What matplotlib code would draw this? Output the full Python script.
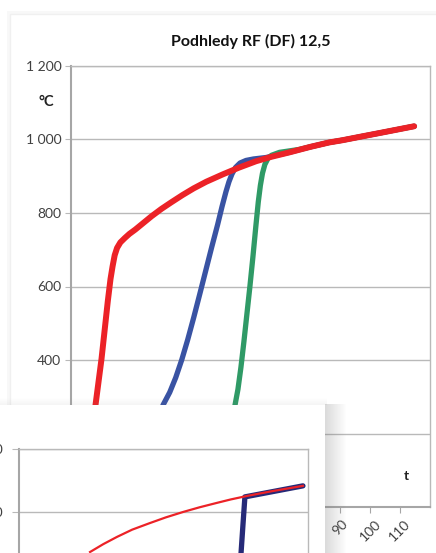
import numpy as np
import matplotlib
matplotlib.use("Agg")
import matplotlib.pyplot as plt
from matplotlib.patches import Rectangle

plt.rcParams['font.family'] = ['Lato', 'DejaVu Sans']

W, H = 436, 553

# main chart: Podhledy RF (DF) 12,5
t_red = [0, 4, 6.5, 8.2, 10.2, 12.3, 13.2, 13.9, 14.6, 15.4, 16.5, 18.0, 19.5, 21.5, 23.6,
         26.9, 30.2, 33.5, 37.3, 41, 45.2, 50.7, 56, 61.9, 67, 73, 80, 86.3, 90.7, 97, 104, 114.7]
T_red = [20, 60, 160, 278, 403, 560, 620, 655, 685, 705, 720, 732, 743, 755, 769,
         791, 811, 829, 849, 867, 885, 905, 923, 941, 953, 965, 980, 992, 998, 1008, 1019, 1036]

t_blue = [0, 10, 20, 26, 30.8, 33, 35, 37, 39, 41, 43, 45, 47, 49, 50.5, 51.8, 52.8,
          53.8, 55, 56.5, 58.5, 61, 65.2, 73, 80, 86.3, 90.7, 97, 104, 114.7]
T_blue = [20, 40, 90, 170, 278, 312, 352, 400, 455, 515, 578, 642, 706, 768, 818, 858, 885,
          906, 924, 936, 943, 947, 951, 965, 980, 992, 998, 1008, 1019, 1036]

t_green = [0, 30, 45, 52, 54.7, 55.8, 56.8, 57.8, 58.8, 59.8, 60.8, 61.8, 62.6, 63.3, 64.0,
           64.8, 65.8, 67, 69.7, 73, 76.3, 80, 86.3, 90.7, 97, 104, 114.7]
T_green = [20, 40, 90, 180, 272, 320, 380, 450, 525, 600, 680, 765, 830, 875, 908,
           932, 948, 957, 965, 969, 973, 980, 992, 998, 1008, 1019, 1036]

y_ticks = [0, 200, 400, 600, 800, 1000, 1200]
y_labels = ['0', '200', '400', '600', '800', '1 000', '1 200']
x_ticks = list(range(0, 120, 10))

# inset chart: Podhled 1x Ridurit 15
t_iso = [29.5, 35, 40.7, 47, 54.4, 61, 68.1, 75, 82.2, 88, 94.7, 105, 117.9]
T_iso = [873, 898, 921, 944, 965, 983, 1000, 1015, 1029, 1040, 1051, 1066, 1083]
t_rid = [91.0, 91.6, 92.2, 93.0, 93.8, 117.9]
T_rid = [700, 780, 870, 960, 1048, 1083]
ins_ticks = [1000, 1200]
ins_labels = ['1 000', '1 200']


def box(l, t, r, b):
    return [l / W, 1 - b / H, (r - l) / W, (b - t) / H]


fig = plt.figure(figsize=(W / 100, H / 100), dpi=100, facecolor='white')

# card behind the main chart
back = fig.add_axes([0, 0, 1, 1], zorder=0)
back.set_xlim(0, W)
back.set_ylim(H, 0)
back.axis('off')
back.add_patch(Rectangle((7, 11), W, H, fc='#f8f8f8', ec='none'))
back.add_patch(Rectangle((10, 14), W, H, fc='white', ec='#f0f0f0', lw=1))

grid_c = '#b9b9b9'
ax = fig.add_axes(box(71, 66, 430, 507), zorder=1)
ax.plot(t_blue, T_blue, color='#3953a3', lw=3.8, solid_capstyle='round', solid_joinstyle='round')
ax.plot(t_green, T_green, color='#2f9a66', lw=3.8, solid_capstyle='round', solid_joinstyle='round')
ax.plot(t_red, T_red, color='#ec2227', lw=4.3, solid_capstyle='round', solid_joinstyle='round')
ax.set_xlim(0, 120)
ax.set_ylim(0, 1200)
ax.set_yticks(y_ticks)
ax.set_yticklabels(y_labels)
ax.set_xticks(x_ticks)
ax.set_xticklabels([str(v) for v in x_ticks], rotation=45, ha='center', va='top')
ax.grid(axis='y', color=grid_c, lw=1)
ax.set_axisbelow(True)
for s in ax.spines.values():
    s.set_color(grid_c)
    s.set_linewidth(1)
ax.spines['left'].set_color('#a6a6a6')
ax.spines['left'].set_linewidth(1.5)
ax.spines['bottom'].set_color('#a6a6a6')
ax.spines['bottom'].set_linewidth(1.5)
ax.tick_params(axis='y', length=4, color=grid_c, labelsize=10, labelcolor='#404040', pad=3)
ax.tick_params(axis='x', length=4, color='#a6a6a6', labelsize=10, labelcolor='#404040', pad=4)
ax.text(112, 84, 't', fontsize=10, fontweight='bold', ha='center', va='center', color='#222222')

fig.text(251 / W, 1 - 41 / H, 'Podhledy RF (DF) 12,5', fontsize=11.5, fontweight='bold',
         ha='center', va='center', color='#111111')
fig.text(46 / W, 1 - 102 / H, '°C', fontsize=10.5, fontweight='bold',
         ha='center', va='center', color='#222222')

# inset card with a soft shadow
front = fig.add_axes([0, 0, 1, 1], zorder=5)
front.set_xlim(0, W)
front.set_ylim(H, 0)
front.axis('off')
side = np.zeros((1, 40, 4))
side[..., :3] = 0.45
side[0, :, 3] = np.linspace(0.26, 0, 40)
front.imshow(side, extent=(325, 347, H, 404), aspect='auto', interpolation='bilinear')
top = np.zeros((20, 1, 4))
top[..., :3] = 0.5
top[:, 0, 3] = np.linspace(0, 0.08, 20)
front.imshow(top, extent=(0, 326, 405, 398), aspect='auto', interpolation='bilinear')
front.add_patch(Rectangle((0, 405), 325, 160, fc='white', ec='none'))
front.set_xlim(0, W)
front.set_ylim(H, 0)

ax2 = fig.add_axes(box(19, 449, 308, 575), zorder=6)
ax2.plot(t_rid, T_rid, color='#262a78', lw=3.8, solid_capstyle='round')
ax2.plot(t_iso, T_iso, color='#ec2227', lw=1.6)
ax2.set_xlim(0, 120)
ax2.set_ylim(800, 1200)
ax2.set_yticks(ins_ticks)
ax2.set_yticklabels(ins_labels)
ax2.set_xticks([])
ax2.grid(axis='y', color=grid_c, lw=1)
ax2.set_axisbelow(True)
for s in ax2.spines.values():
    s.set_color(grid_c)
    s.set_linewidth(1)
ax2.spines['left'].set_color('#a6a6a6')
ax2.spines['left'].set_linewidth(1.5)
ax2.tick_params(axis='y', length=5, color=grid_c, labelsize=10, labelcolor='#404040', pad=7)
fig.text(150 / W, 1 - 427 / H, 'Podhled 1x Ridurit 15', fontsize=11.5, fontweight='bold',
         ha='center', va='center', color='#111111')
fig.text(-4 / W, 1 - 479 / H, '°C', fontsize=10, fontweight='bold',
         ha='center', va='center', color='#222222')

fig.savefig('out.png', dpi=100, facecolor='white')
